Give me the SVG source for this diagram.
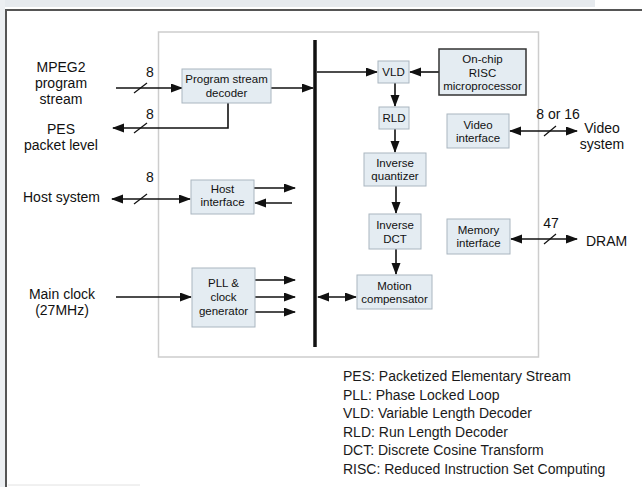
<svg xmlns="http://www.w3.org/2000/svg" width="642" height="487" viewBox="0 0 642 487">
<defs>
<style>
.lbl{font-family:"Liberation Sans",Arial,sans-serif;font-size:14px;fill:#111}
.bx{font-family:"Liberation Sans",Arial,sans-serif;font-size:11.5px;fill:#111;text-anchor:middle}
.box{fill:#e4ecf2;stroke:#aab6c0;stroke-width:1}
.risc{fill:#e4ecf2;stroke:#333;stroke-width:1.5}
.ln{stroke:#111;stroke-width:1.6;fill:none}
.ar{stroke:#111;stroke-width:1.6;fill:none;marker-end:url(#ah)}
.bi{stroke:#111;stroke-width:1.6;fill:none;marker-end:url(#ah);marker-start:url(#ah)}
.sl{stroke:#111;stroke-width:1.2}
.leg{font-family:"Liberation Sans",Arial,sans-serif;font-size:14px;fill:#1a1a1a}
</style>
<marker id="ah" markerUnits="userSpaceOnUse" markerWidth="12" markerHeight="10" refX="11" refY="4.5" orient="auto-start-reverse">
<path d="M0,0 L12,4.5 L0,9 z" fill="#111"/>
</marker>
</defs>
<rect width="642" height="487" fill="#fff"/>
<rect x="0" y="0" width="595" height="7" fill="#e6eaee"/>
<rect x="0" y="0" width="5" height="487" fill="#eceff2"/>
<path d="M6,487 V10 H642" fill="none" stroke="#555" stroke-width="2"/>
<line x1="8" y1="485" x2="140" y2="485" stroke="#e2e2e2" stroke-width="1"/>
<rect id="chip" x="158.5" y="32" width="380" height="325" fill="none" stroke="#cdcdcd" stroke-width="1.5"/>

<g id="connectors">
<line x1="315" y1="40" x2="315" y2="347" stroke="#111" stroke-width="3.5"/>
<line class="ar" x1="116" y1="88" x2="182" y2="88"/>
<line class="sl" x1="134" y1="93" x2="147" y2="83"/>
<line class="ar" x1="271" y1="88" x2="313" y2="88"/>
<polyline class="ar" points="228,103 228,128 113,128"/>
<line class="sl" x1="134" y1="133" x2="147" y2="123"/>
<line class="bi" x1="112" y1="199" x2="190" y2="199"/>
<line class="sl" x1="134" y1="204" x2="147" y2="194"/>
<line class="ar" x1="254" y1="188" x2="295" y2="188"/>
<line class="ar" x1="292" y1="203" x2="255" y2="203"/>
<line class="ar" x1="116" y1="297" x2="191" y2="297"/>
<line class="ar" x1="255" y1="280" x2="295" y2="280"/>
<line class="ar" x1="255" y1="297" x2="295" y2="297"/>
<line class="ar" x1="255" y1="312" x2="295" y2="312"/>
<line class="ar" x1="317" y1="72" x2="377" y2="72"/>
<line class="ar" x1="439" y1="72" x2="410" y2="72"/>
<line class="ar" x1="395" y1="83" x2="395" y2="106"/>
<line class="ar" x1="395" y1="129" x2="395" y2="152"/>
<line class="ar" x1="396" y1="186" x2="396" y2="213"/>
<line class="ar" x1="396" y1="249" x2="396" y2="274"/>
<line class="bi" x1="318" y1="297" x2="356" y2="297"/>
<line class="bi" x1="510" y1="131" x2="577" y2="131"/>
<line class="sl" x1="544" y1="136" x2="556" y2="126"/>
<line class="bi" x1="511" y1="239" x2="577" y2="239"/>
<line class="sl" x1="544" y1="244" x2="556" y2="234"/>
</g>

<g id="mpeg2-input"><text class="lbl" text-anchor="middle" x="61" y="72">MPEG2</text><text class="lbl" text-anchor="middle" x="61" y="88">program</text><text class="lbl" text-anchor="middle" x="61" y="104">stream</text><text class="lbl" text-anchor="middle" x="150" y="77">8</text></g>
<g id="pes-output"><text class="lbl" text-anchor="middle" x="61" y="134">PES</text><text class="lbl" text-anchor="middle" x="61" y="150">packet level</text><text class="lbl" text-anchor="middle" x="150" y="119">8</text></g>
<g id="host-system"><text class="lbl" x="23" y="202">Host system</text><text class="lbl" text-anchor="middle" x="150" y="182">8</text></g>
<g id="main-clock"><text class="lbl" text-anchor="middle" x="62" y="299">Main clock</text><text class="lbl" text-anchor="middle" x="62" y="315">(27MHz)</text></g>

<g id="psd"><rect class="box" x="182" y="69" width="89" height="34"/><text class="bx" x="226.5" y="83">Program stream</text><text class="bx" x="226.5" y="96.5">decoder</text></g>
<g id="host-if"><rect class="box" x="191" y="180" width="63" height="34"/><text class="bx" x="222.5" y="193">Host</text><text class="bx" x="222.5" y="206">interface</text></g>
<g id="pll"><rect class="box" x="192" y="268" width="63" height="59"/><text class="bx" x="223.5" y="287">PLL &amp;</text><text class="bx" x="223.5" y="301">clock</text><text class="bx" x="223.5" y="314.5">generator</text></g>
<g id="vld"><rect class="box" x="378" y="61" width="31" height="22"/><text class="bx" x="393.5" y="76">VLD</text></g>
<g id="risc"><rect class="risc" x="439" y="49" width="87" height="46"/><text class="bx" x="482.5" y="63">On-chip</text><text class="bx" x="482.5" y="76.5">RISC</text><text class="bx" x="482.5" y="90">microprocessor</text></g>
<g id="rld"><rect class="box" x="379" y="107" width="30" height="22"/><text class="bx" x="394" y="122">RLD</text></g>
<g id="iq"><rect class="box" x="364" y="153" width="62" height="33"/><text class="bx" x="395" y="167">Inverse</text><text class="bx" x="395" y="180">quantizer</text></g>
<g id="idct"><rect class="box" x="369" y="214" width="52" height="35"/><text class="bx" x="395" y="229">Inverse</text><text class="bx" x="395" y="242.5">DCT</text></g>
<g id="mc"><rect class="box" x="357" y="275" width="75" height="34"/><text class="bx" x="394.5" y="289.5">Motion</text><text class="bx" x="394.5" y="302.5">compensator</text></g>
<g id="video-if"><rect class="box" x="447" y="114" width="62" height="34"/><text class="bx" x="478" y="128.5">Video</text><text class="bx" x="478" y="141.5">interface</text></g>
<g id="mem-if"><rect class="box" x="447" y="219" width="63" height="35"/><text class="bx" x="478.5" y="234">Memory</text><text class="bx" x="478.5" y="247">interface</text></g>
<g id="video-system"><text class="lbl" text-anchor="middle" x="558" y="119">8 or 16</text><text class="lbl" text-anchor="middle" x="602" y="133">Video</text><text class="lbl" text-anchor="middle" x="602" y="149">system</text></g>
<g id="dram"><text class="lbl" text-anchor="middle" x="551" y="228">47</text><text class="lbl" x="586" y="246">DRAM</text></g>

<g id="legend">
<text class="leg" x="343" y="381">PES: Packetized Elementary Stream</text>
<text class="leg" x="343" y="399.5">PLL: Phase Locked Loop</text>
<text class="leg" x="343" y="418">VLD: Variable Length Decoder</text>
<text class="leg" x="343" y="436.5">RLD: Run Length Decoder</text>
<text class="leg" x="343" y="455">DCT: Discrete Cosine Transform</text>
<text class="leg" x="343" y="473.5">RISC: Reduced Instruction Set Computing</text>
</g>
</svg>
